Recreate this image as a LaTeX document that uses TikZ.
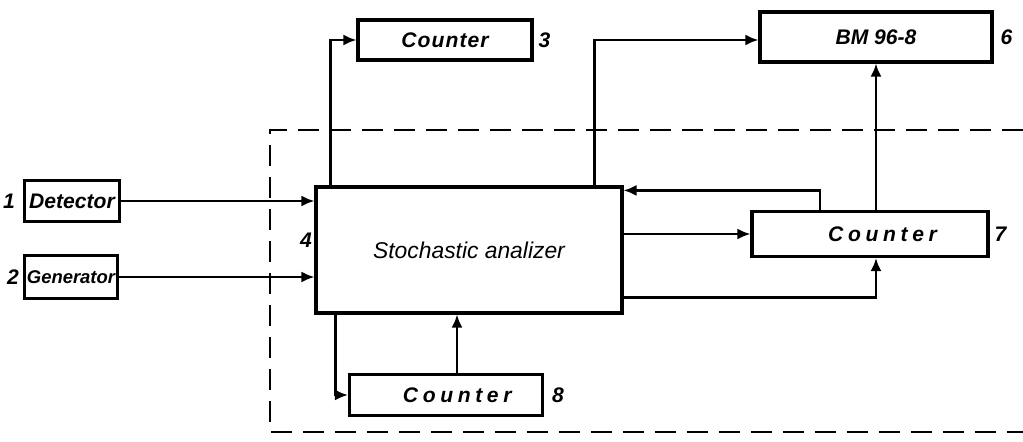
\documentclass[tikz,border=0pt]{standalone}
\usepackage{fontspec}
\setsansfont{Liberation Sans}
\newfontfamily\tightfont[LetterSpace=5]{Liberation Sans}
\newfontfamily\spacedfont[LetterSpace=22]{Liberation Sans}
\usetikzlibrary{positioning, arrows.meta, calc}

\begin{document}
\begin{tikzpicture}[x=0.02cm, y=-0.02cm,
    box/.style={rectangle, draw=black, line width=1.8pt, align=center, inner sep=1pt, font=\sffamily\bfseries\itshape},
    cbox/.style={box, font=\spacedfont\bfseries\itshape\fontsize{12}{14}\selectfont},
    lbl/.style={font=\sffamily\bfseries\itshape\fontsize{12}{14}\selectfont, inner sep=1pt},
    arrow/.style={line width=1.3pt, -{Latex[length=2.6mm,width=2.2mm]}},
    frame/.style={line width=1.6pt, dash pattern=on 0.42cm off 0.22cm}
]
\useasboundingbox (0,0) rectangle (1023,441);
% dashed boundary of the analyser unit
\draw [frame] (1023,130) -- (270,130) -- (270,432) -- (1023,432);
% blocks
\node (det) [box, minimum width=1.9cm, minimum height=0.82cm, font=\sffamily\bfseries\itshape\fontsize{12}{14}\selectfont] at (72,201) {Detector};
\node (gen) [box, minimum width=1.86cm, minimum height=0.86cm, font=\sffamily\bfseries\itshape\fontsize{10.5}{12}\selectfont] at (71,277) {Generator};
\node (ana) [box, minimum width=6.12cm, minimum height=2.52cm, font=\sffamily\itshape\fontsize{13}{15}\selectfont] at (469,250) {Stochastic analizer};
\node (c3) [box, minimum width=3.48cm, minimum height=0.8cm, font=\tightfont\bfseries\itshape\fontsize{12}{14}\selectfont] at (445,40) {Counter};
\node (bm) [box, minimum width=4.64cm, minimum height=1.0cm, font=\sffamily\bfseries\itshape\fontsize{12}{14}\selectfont] at (876,37) {BM 96-8};
\node (c7) [cbox, minimum width=4.72cm, minimum height=0.9cm] at (870,234) {\hspace{0.5cm}Counter};
\node (c8) [cbox, minimum width=3.86cm, minimum height=0.82cm] at (446,395) {\hspace{0.45cm}Counter};
% numbers
\node (n1) [lbl, left=0.12cm of det] {1};
\node (n2) [lbl, left=0.04cm of gen] {2};
\node (n3) [lbl, right=0.06cm of c3] {3};
\node (n4) [lbl] at (306,240) {4};
\node (n6) [lbl, right=0.1cm of bm] {6};
\node (n7) [lbl, right=0.06cm of c7] {7};
\node (n8) [lbl, right=0.12cm of c8] {8};
% connections
\draw [arrow] (det) -- (det -| ana.west);
\draw [arrow] (gen) -- (gen -| ana.west);
\draw [arrow] ([xshift=0.32cm]ana.north west) |- (c3.west);
\draw [arrow] ([xshift=-0.58cm]ana.north east) |- ([yshift=-0.06cm]bm.west);
\draw [arrow] (c7.north -| bm.south) -- (bm.south);
\draw [arrow] (ana.east |- c7.west) -- (c7.west);
\draw [arrow] ([xshift=-1cm]c7.north) |- ([yshift=-0.1cm]ana.north east);
\draw [arrow] ([yshift=0.34cm]ana.south east) -| (c7.south -| bm.south);
\draw [arrow] ([xshift=0.42cm]ana.south west) |- (c8.west);
\draw [arrow] ([xshift=0.22cm]c8.north) -- ([xshift=0.22cm]c8.north |- ana.south);
\end{tikzpicture}
\end{document}
